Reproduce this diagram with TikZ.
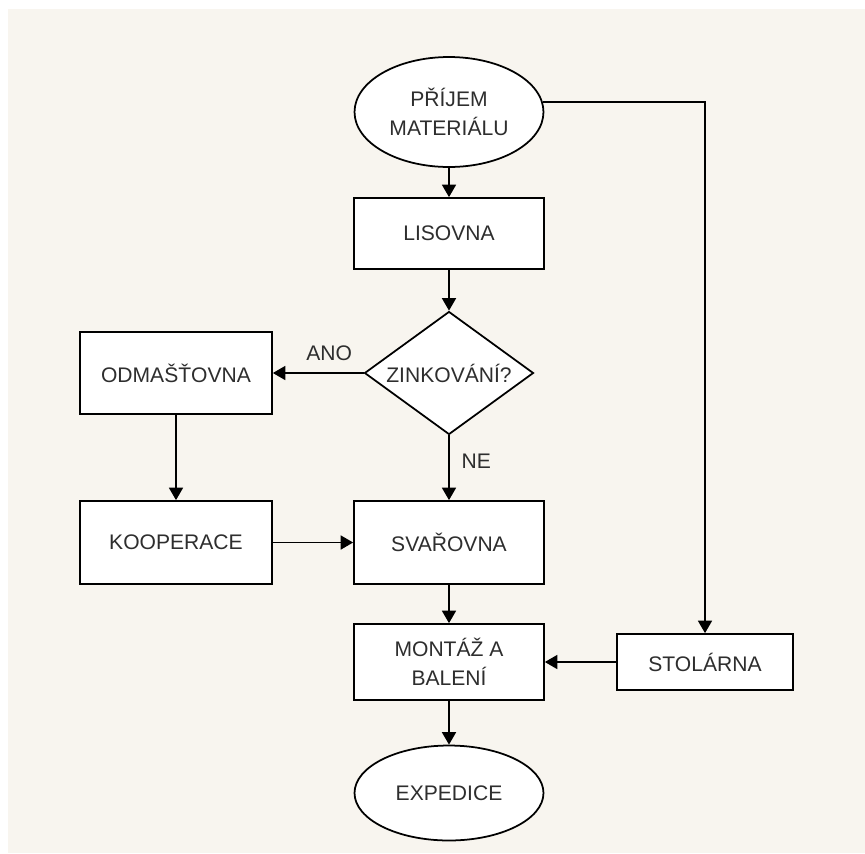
\documentclass[tikz,border=0pt]{standalone}
\usepackage{fontspec}
\setmainfont{Liberation Sans}
\usepackage{tikz}
\usetikzlibrary{shapes.geometric,arrows.meta}
\definecolor{paperbeige}{HTML}{F8F5EF}
\definecolor{inkgray}{HTML}{2E2E2E}

\begin{document}
\begin{tikzpicture}[
        x=0.02cm, y=-0.02cm,
        every node/.style={font=\fontsize{12pt}{16.5pt}\selectfont, text=inkgray},
        block/.style={rectangle,draw,fill=white,line width=1pt,minimum width=3.8cm,minimum height=1.66cm},
        terminal/.style={ellipse,draw,fill=white,line width=1pt,minimum width=3.78cm,align=center,inner sep=0pt},
        decision/.style={diamond,draw,fill=white,line width=1pt,aspect=1.37,minimum width=3.38cm,minimum height=2.46cm,inner sep=0pt},
        arrow/.style={-{Triangle[length=0.25cm,width=0.28cm]},line width=1pt},
        ]

        % Pozadi
        \fill[white] (0,0) rectangle (865,853);
        \fill[paperbeige] (8,9) rectangle (865,853);

        % Hlavni vetev
        \node[terminal,minimum height=2.2cm] (prijem) at (449,112) {PŘÍJEM\\MATERIÁLU};
        \node[block,minimum height=1.42cm] (lisovna) at (449,233.5) {LISOVNA};
        \node[decision] (zinkovani) at (449,373) {ZINKOVÁNÍ?};
        \node[block] (svarovna) at (449,542.5) {SVAŘOVNA};
        \node[block,minimum height=1.52cm,align=center] (montaz) at (449,662) {MONTÁŽ A\\BALENÍ};
        \node[terminal,minimum height=1.9cm] (expedice) at (449,793) {EXPEDICE};

        % Vetev zinkovani
        \node[block,minimum width=3.84cm,minimum height=1.64cm] (odmastovna) at (176,373) {ODMAŠŤOVNA};
        \node[block,minimum width=3.84cm] (kooperace) at (176,542.5) {KOOPERACE};

        % Vetev stolarna
        \node[block,minimum width=3.52cm,minimum height=1.12cm] (stolarna) at (705,662) {STOLÁRNA};

        % Spojeni
        \draw[arrow] (prijem) -- (lisovna);
        \draw[arrow] (lisovna) -- (zinkovani);
        \draw[arrow] (zinkovani.west) -- node[above=0.12cm,pos=0.38] {ANO} (odmastovna.east);
        \draw[arrow] (zinkovani.south) -- node[right=0.12cm,pos=0.4] {NE} (svarovna.north);
        \draw[arrow] (odmastovna) -- (kooperace);
        \draw[arrow] (kooperace) -- (svarovna);
        \draw[arrow] (svarovna) -- (montaz);
        \draw[arrow] (montaz) -- (expedice);
        \draw[arrow] (prijem.6) -| (stolarna.north);
        \draw[arrow] (stolarna) -- (montaz);
    \end{tikzpicture}
\end{document}
